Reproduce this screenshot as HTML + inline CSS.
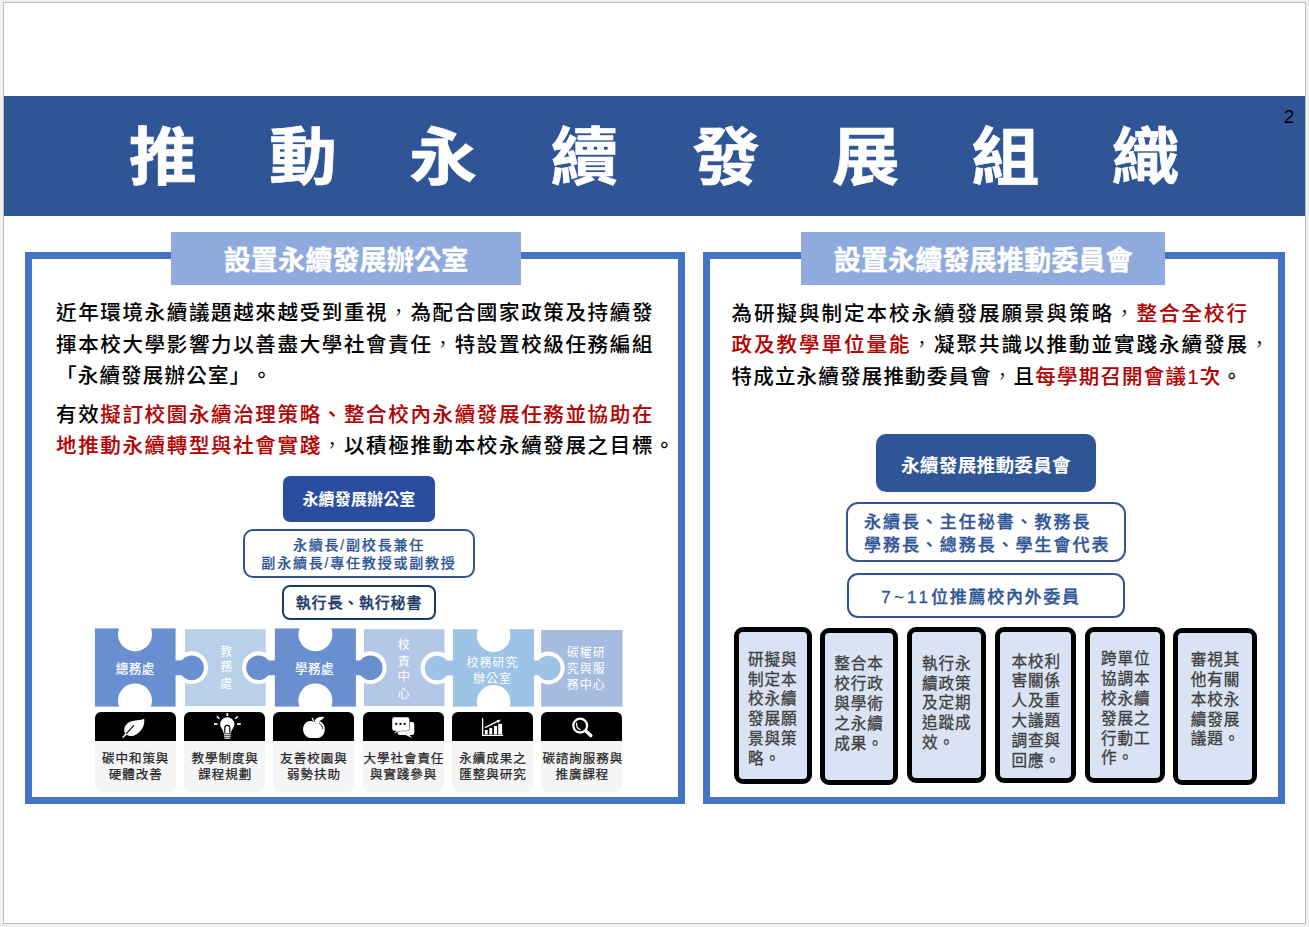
<!DOCTYPE html>
<html lang="zh-Hant">
<head>
<meta charset="utf-8">
<title>推動永續發展組織</title>
<style>
html,body{margin:0;padding:0;}
body{width:1309px;height:927px;background:#f0f0f0;position:relative;overflow:hidden;
 font-family:"Liberation Sans","Noto Sans CJK TC",sans-serif;color:#000;}
.abs{position:absolute;}
#frame{left:3px;top:2px;width:1301px;height:920px;border:1px solid #bdbdbd;background:#fff;}
#banner{left:4px;top:96px;width:1301px;height:120px;background:#2f5597;}
#title{left:0;top:96.5px;width:1309px;height:120px;color:#fff;font-weight:700;font-size:68px;line-height:120px;white-space:nowrap;-webkit-text-stroke:0.6px #fff;}
#title span{position:absolute;top:0;width:140px;text-align:center;transform:scaleY(0.925);}
#pgno{left:1274px;top:106px;width:30px;text-align:center;font-size:19px;line-height:22px;color:#000;}
.panel{border:7px solid #4472c4;background:#fff;box-sizing:border-box;}
#pl{left:25px;top:252px;width:660px;height:552px;}
#pr{left:703px;top:252px;width:582px;height:552px;}
.label{background:#8faadc;color:#fff;font-weight:700;-webkit-text-stroke:0.3px #fff;font-size:27.2px;text-align:center;height:53px;line-height:57.5px;top:232px;overflow:hidden;white-space:nowrap;}
#ll{left:171px;width:350px;}
#lr{left:801px;width:364.4px;}
.para{font-size:20.5px;line-height:31.6px;letter-spacing:1.65px;white-space:nowrap;color:#000;font-weight:500;-webkit-text-stroke:0.05px #000;text-spacing-trim:space-all;}
.j0{letter-spacing:1.2px;}.j1{letter-spacing:1.65px;}.j2{letter-spacing:2px;}
.cm{font-weight:300;-webkit-text-stroke:0 #000;}
.red{color:#b20000;font-weight:500;-webkit-text-stroke:0.1px #b20000;}

.obox{z-index:3;box-sizing:border-box;text-align:center;white-space:nowrap;}
.navy{background:#2a4da0;color:#fff;font-weight:700;border-radius:7px;}
.outl{background:#fff;border:2px solid #2f5597;color:#2f5597;font-weight:700;}
.pz{fill:#fff;font-size:12px;letter-spacing:1px;text-anchor:middle;font-family:"Liberation Sans","Noto Sans CJK TC",sans-serif;}
.ic{background:#000;border-radius:6px 6px 0 0;height:29.6px;top:711.5px;width:81px;}
.lb{background:#f5f5f6;border-radius:0 0 7px 7px;top:741px;height:51px;width:81px;text-align:center;font-size:12.5px;line-height:16px;font-weight:400;-webkit-text-stroke:0.25px #262626;color:#262626;white-space:nowrap;letter-spacing:0.95px;padding-left:1px;box-sizing:border-box;padding-top:10px;}
.kb{box-sizing:border-box;border:5px solid #000;border-radius:9px;background:#dae3f3;color:#404040;font-weight:400;-webkit-text-stroke:0.3px #404040;font-size:15.6px;line-height:19.8px;letter-spacing:0.9px;white-space:nowrap;}
.kb div{position:absolute;}
</style>
</head>
<body>
<div id="frame" class="abs"></div>
<div id="banner" class="abs"></div>
<div id="title" class="abs"><span style="left:92.65px">推</span><span style="left:233px">動</span><span style="left:373px">永</span><span style="left:514.5px">續</span><span style="left:656px">發</span><span style="left:795.8px">展</span><span style="left:935.4px">組</span><span style="left:1075.6px">織</span></div>
<div id="pgno" class="abs">2</div>

<div id="pl" class="abs panel"></div>
<div id="pr" class="abs panel"></div>
<div id="ll" class="abs label">設置永續發展辦公室</div>
<div id="lr" class="abs label">設置永續發展推動委員會</div>

<div class="abs para" style="left:56px;top:297px;"><span class="j1">近年環境永續議題越來越受到重視<span class="cm">，</span>為配合國家政策及持續發</span><br><span class="j1">揮本校大學影響力以善盡大學社會責任<span class="cm">，</span>特設置校級任務編組</span><br><span class="j0">「永續發展辦公室」。</span></div>
<div class="abs para" style="left:56px;top:398.8px;line-height:31.3px"><span class="j1">有效<span class="red">擬訂校園永續治理策略、整合校內永續發展任務並協助在</span></span><br><span class="j1"><span class="red">地推動永續轉型與社會實踐</span><span class="cm">，</span>以積極推動本校永續發展之目標。</span></div>

<div class="abs para" style="left:731.5px;top:298.05px;line-height:31.3px"><span class="j2">為研擬與制定本校永續發展願景與策略<span class="cm">，</span><span class="red">整合全校行</span></span><br><span class="j2"><span class="red">政及教學單位量能</span><span class="cm">，</span>凝聚共識以推動並實踐永續發展<span class="cm">，</span></span><br><span class="j0">特成立永續發展推動委員會<span class="cm">，</span>且<span class="red">每學期召開會議1次</span>。</span></div>

<!-- left org chart -->
<div class="abs obox navy" style="left:283px;top:476px;width:152px;height:46px;line-height:48.8px;overflow:hidden;font-size:16px;letter-spacing:0.15px;">永續發展辦公室</div>
<div class="abs obox outl" style="left:243px;top:529px;width:232px;height:49px;border-radius:10px;font-size:14px;letter-spacing:1.8px;line-height:18.6px;padding-top:4.7px;font-weight:500;-webkit-text-stroke:0.2px #2f5597;">永續長/副校長兼任<br>副永續長/專任教授或副教授</div>
<div class="abs obox outl" style="left:282px;top:585px;width:154px;height:35px;border-radius:8px;border-color:#203864;color:#203864;font-size:15px;letter-spacing:0.8px;line-height:31px;font-weight:500;-webkit-text-stroke:0.3px #203864;">執行長、執行秘書</div>

<!-- puzzle + icons -->
<svg class="abs" style="left:0;top:0" width="1309" height="927" viewBox="0 0 1309 927">
 <!-- light pieces first -->
 <rect x="185" y="629.2" width="80.7" height="76.8" fill="#b9d1e8"/>
 <rect x="364" y="629.2" width="80.5" height="76.8" fill="#b4c7e7"/>
 <rect x="541.1" y="630" width="81.5" height="76.6" fill="#a5bbe0"/>
 <!-- piece 1 -->
 <circle cx="191.6" cy="667.7" r="16.4" fill="#fff"/>
 <rect x="94.9" y="628.4" width="80.7" height="78.2" fill="#6a8fd0"/>
 <rect x="175" y="660.4" width="10" height="14.8" fill="#6a8fd0"/>
 <circle cx="191.6" cy="667.7" r="12.3" fill="#6a8fd0"/>
 <circle cx="135" cy="634.3" r="17" fill="#fff"/>
 <circle cx="135" cy="700.4" r="17" fill="#fff"/>
 <!-- piece 3 -->
 <circle cx="258.5" cy="667.7" r="16.4" fill="#fff"/>
 <circle cx="370.3" cy="667.7" r="16.4" fill="#fff"/>
 <rect x="274.9" y="628.4" width="81" height="78.2" fill="#6a8fd0"/>
 <rect x="262" y="660.4" width="13.5" height="14.8" fill="#6a8fd0"/>
 <rect x="355" y="660.4" width="10" height="14.8" fill="#6a8fd0"/>
 <circle cx="258.5" cy="667.7" r="12.3" fill="#6a8fd0"/>
 <circle cx="370.3" cy="667.7" r="12.3" fill="#6a8fd0"/>
 <circle cx="315.4" cy="634.3" r="17" fill="#fff"/>
 <circle cx="315.4" cy="700.4" r="17" fill="#fff"/>
 <!-- piece 5 -->
 <circle cx="437" cy="668" r="16.4" fill="#fff"/>
 <circle cx="548.4" cy="668" r="16.4" fill="#fff"/>
 <rect x="453" y="629.2" width="81" height="77.4" fill="#9dc3e6"/>
 <rect x="441" y="660.6" width="13" height="14.8" fill="#9dc3e6"/>
 <rect x="533" y="660.6" width="10" height="14.8" fill="#9dc3e6"/>
 <circle cx="437" cy="668" r="12.3" fill="#9dc3e6"/>
 <circle cx="548.4" cy="668" r="12.3" fill="#9dc3e6"/>
 <circle cx="493.6" cy="635.2" r="16.8" fill="#fff"/>
 <circle cx="493.6" cy="701.8" r="16.8" fill="#fff"/>
 <!-- piece text -->
 <text class="pz" x="135.2" y="673.4" font-weight="500" style="font-size:12.6px;letter-spacing:0.4px">總務處</text>
 <text class="pz" x="314.4" y="673.4" font-weight="500" style="font-size:12.6px;letter-spacing:0.4px">學務處</text>
 <text class="pz" x="226.8" y="656.1">教</text><text class="pz" x="226.8" y="671">務</text><text class="pz" x="226.8" y="687.5">處</text>
 <text class="pz" x="404.2" y="649.4">校</text><text class="pz" x="404.2" y="665.8">責</text><text class="pz" x="404.2" y="681.2">中</text><text class="pz" x="404.2" y="697.5">心</text>
 <text class="pz" x="492.5" y="666.7">校務研究</text><text class="pz" x="492.5" y="682.6">辦公室</text>
 <text class="pz" x="586.3" y="656.6">碳權研</text><text class="pz" x="586.3" y="673.2">究與服</text><text class="pz" x="586.3" y="689.4">務中心</text>
</svg>

<div class="abs ic" style="left:94.7px"></div><div class="abs lb" style="left:94.7px">碳中和策與<br>硬體改善</div>
<div class="abs ic" style="left:184.2px"></div><div class="abs lb" style="left:184.2px">教學制度與<br>課程規劃</div>
<div class="abs ic" style="left:273px"></div><div class="abs lb" style="left:273px">友善校園與<br>弱勢扶助</div>
<div class="abs ic" style="left:362.6px"></div><div class="abs lb" style="left:362.6px">大學社會責任<br>與實踐參與</div>
<div class="abs ic" style="left:452px"></div><div class="abs lb" style="left:452px">永續成果之<br>匯整與研究</div>
<div class="abs ic" style="left:541.4px"></div><div class="abs lb" style="left:541.4px">碳諮詢服務與<br>推廣課程</div>

<svg class="abs" style="left:0;top:0" width="1309" height="927" viewBox="0 0 1309 927">
 <!-- leaf -->
 <path d="M144.2 718.8 C141 720.8 134 719.6 128.8 722.6 C124.6 725 123 730 125.2 733.6 C127.2 736.8 132.6 736.8 136.6 734.2 C142 730.6 145 725.6 144.2 718.8 Z" fill="#fff"/>
 <path d="M123.2 737 L127.5 732.6" stroke="#fff" stroke-width="1.6" stroke-linecap="round"/>
 <path d="M126.6 733.4 L133.6 725.6" stroke="#000" stroke-width="1.1" stroke-linecap="round"/>
 <!-- bulb -->
 <g fill="#fff" stroke="none">
  <path d="M227.3 717.2 a7.1 7.1 0 0 1 7.1 7.1 c0 3.2 -2.6 4.6 -3.4 8.6 h-7.4 c-0.8 -4 -3.4 -5.4 -3.4 -8.6 a7.1 7.1 0 0 1 7.1 -7.1 Z"/>
  <rect x="223.9" y="733.6" width="6.8" height="1.2"/><rect x="223.9" y="735.6" width="6.8" height="1.2"/><rect x="224.4" y="737.6" width="5.8" height="1.2"/>
  <rect x="226.4" y="713" width="1.8" height="3"/>
  <rect x="214" y="723.2" width="3.5" height="1.7"/><rect x="237" y="723.2" width="3.8" height="1.7"/>
 </g>
 <path d="M216.8 716.4 L219.6 718.8 M237.9 716.4 L235.1 718.8" stroke="#fff" stroke-width="1.5"/>
 <path d="M224.8 732.8 V727.8 a2.5 2.5 0 0 1 5 0 V732.8" fill="none" stroke="#000" stroke-width="1.2"/>
 <!-- apple -->
 <path d="M313 721.4 C308 719.6 303.1 723.4 303.1 729.2 C303.1 734.6 307.4 738 311 738 H317.5 C321.5 738 324.8 734.4 324.8 729 C324.8 723.4 320 719.6 315 721.4 Z" fill="#fff"/>
 <path d="M314.4 721.2 C315.4 718 319 716.2 324.2 716.8 C322.8 720 319.4 722.2 314.4 721.2 Z" fill="#fff"/>
 <path d="M312.2 718.2 L313.4 720.6" stroke="#fff" stroke-width="1.2" stroke-linecap="round"/>
 <path d="M319.4 723.2 C321.4 724.6 322.4 726.4 322.6 728.4" fill="none" stroke="#000" stroke-width="0.9" stroke-linecap="round"/>
 <!-- chat -->
 <path d="M400 722 H412 a2.3 2.3 0 0 1 2.3 2.3 V732.7 a2.3 2.3 0 0 1 -2.3 2.3 H409.6 L412 737.9 L405.6 735 H400 a2.3 2.3 0 0 1 -2.3 -2.3 V724.3 a2.3 2.3 0 0 1 2.3 -2.3 Z" fill="#fff"/>
 <path d="M394.5 717.2 H407.1 a2.3 2.3 0 0 1 2.3 2.3 V728.4 a2.3 2.3 0 0 1 -2.3 2.3 H400.6 L393.4 733.8 L396.8 730.7 H394.5 a2.3 2.3 0 0 1 -2.3 -2.3 V719.5 a2.3 2.3 0 0 1 2.3 -2.3 Z" fill="#fff" stroke="#000" stroke-width="0.9" paint-order="stroke"/>
 <circle cx="396.3" cy="723.9" r="1.15" fill="#000"/><circle cx="400.5" cy="723.9" r="1.15" fill="#000"/><circle cx="404.6" cy="723.9" r="1.15" fill="#000"/>
 <!-- bar chart -->
 <path d="M482.6 718.3 V735.3 H503" fill="none" stroke="#fff" stroke-width="1.3"/>
 <rect x="484.8" y="730" width="2.9" height="4.4" fill="#fff"/><rect x="489.3" y="727.9" width="2.9" height="6.5" fill="#fff"/><rect x="493.9" y="725.9" width="3.2" height="8.5" fill="#fff"/><rect x="498.2" y="723.8" width="3.9" height="10.6" fill="#fff"/>
 <path d="M485.4 727.4 L498.6 720.9" stroke="#fff" stroke-width="1.5" stroke-linecap="round"/>
 <path d="M500.8 719.7 L496.6 720 L498.4 722.9 Z" fill="#fff"/>
 <!-- magnifier -->
 <circle cx="580.2" cy="725.6" r="6.9" fill="none" stroke="#fff" stroke-width="2.3"/>
 <path d="M585.8 731 L590.8 735.6" stroke="#fff" stroke-width="3.4" stroke-linecap="round"/>
 <path d="M576.6 723.2 C576.2 726.2 577.6 728.6 580 729.6" fill="none" stroke="#fff" stroke-width="1.3" stroke-linecap="round"/>
</svg>

<!-- right org chart -->
<div class="abs obox" style="left:876px;top:434px;width:220px;height:58px;line-height:64.5px;overflow:hidden;border-radius:10px;background:#2f5597;color:#fff;font-weight:700;font-size:18.6px;letter-spacing:0.3px;">永續發展推動委員會</div>
<div class="abs obox outl" style="left:846px;top:501.5px;width:280px;height:60.5px;border-radius:12px;"></div>
<div class="abs" style="z-index:4;left:864px;top:512.2px;color:#2f5597;font-weight:500;-webkit-text-stroke:0.3px #2f5597;font-size:17px;letter-spacing:1.95px;line-height:22.9px;white-space:nowrap;">永續長、主任秘書、教務長<br>學務長、總務長、學生會代表</div>
<div class="abs obox outl" style="left:846.5px;top:572.5px;width:278px;height:45.5px;border-radius:11px;font-size:17px;letter-spacing:1.7px;line-height:45px;font-weight:500;-webkit-text-stroke:0.3px #2f5597;padding-right:9px;"><span style="letter-spacing:3.2px">7~11</span>位推薦校內外委員</div>

<div class="abs kb" style="left:734px;top:627px;width:77.5px;height:156.5px;"><div style="left:9px;top:17.8px;">研擬與<br>制定本<br>校永續<br>發展願<br>景與策<br>略。</div></div>
<div class="abs kb" style="left:819.7px;top:628.2px;width:78.2px;height:156.6px;"><div style="left:9.5px;top:21.3px;">整合本<br>校行政<br>與學術<br>之永續<br>成果。</div></div>
<div class="abs kb" style="left:906.6px;top:627px;width:79.8px;height:156.4px;"><div style="left:10.5px;top:21.8px;">執行永<br>續政策<br>及定期<br>追蹤成<br>效。</div></div>
<div class="abs kb" style="left:995px;top:626.8px;width:80.8px;height:156.4px;"><div style="left:11.5px;top:19.8px;">本校利<br>害關係<br>人及重<br>大議題<br>調查與<br>回應。</div></div>
<div class="abs kb" style="left:1084.8px;top:626.8px;width:80.3px;height:156.4px;"><div style="left:11.2px;top:17.6px;">跨單位<br>協調本<br>校永續<br>發展之<br>行動工<br>作。</div></div>
<div class="abs kb" style="left:1173px;top:628.3px;width:84.3px;height:156.4px;"><div style="left:12.7px;top:17.0px;">審視其<br>他有關<br>本校永<br>續發展<br>議題。</div></div>

</body>
</html>
